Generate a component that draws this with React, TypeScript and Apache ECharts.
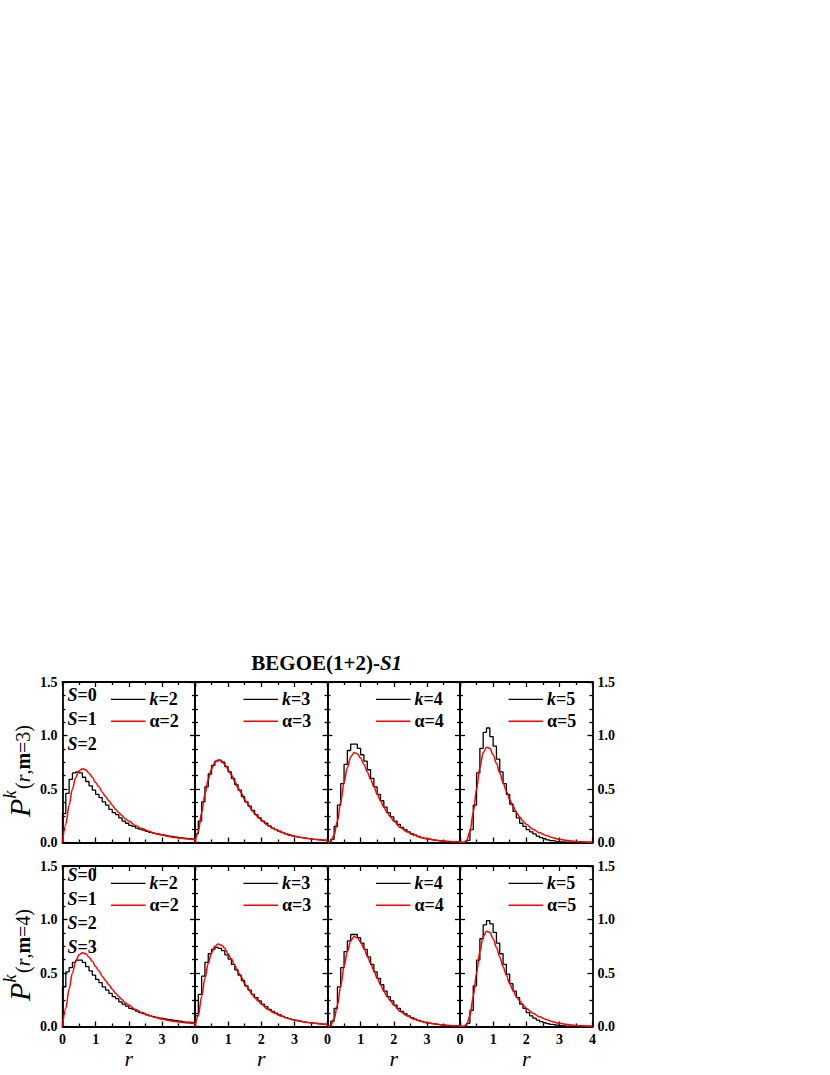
import React, { useEffect, useRef } from "react";
import * as echarts from "echarts";

// ---------- data ----------
const BIN_WIDTH = 0.1;
const X_MAX = 4;

// histogram bin heights (bins of width 0.1 from 0 to 4), m = 3 row
const histTopK2 = [0.27,0.46,0.59,0.65,0.66,0.65,0.61,0.57,0.53,0.49,0.45,0.42,0.38,0.35,0.31,0.28,0.26,0.23,0.2,0.18,0.16,0.15,0.135,0.125,0.115,0.105,0.095,0.088,0.08,0.074,0.068,0.062,0.057,0.052,0.048,0.044,0.04,0.037,0.034,0.031];
const histTopK3 = [0.08,0.2,0.38,0.52,0.64,0.72,0.76,0.77,0.75,0.71,0.66,0.6,0.54,0.49,0.43,0.38,0.34,0.3,0.26,0.23,0.2,0.18,0.155,0.135,0.12,0.105,0.092,0.08,0.07,0.062,0.055,0.048,0.043,0.038,0.034,0.03,0.027,0.024,0.021,0.019];
const histTopK4 = [0,0.03,0.15,0.35,0.55,0.73,0.86,0.92,0.92,0.88,0.82,0.76,0.68,0.6,0.52,0.45,0.39,0.33,0.28,0.24,0.2,0.17,0.14,0.12,0.1,0.082,0.068,0.056,0.046,0.038,0.031,0.025,0.02,0.016,0.013,0.01,0.008,0.006,0.005,0.004];
const histTopK5 = [0,0,0.02,0.12,0.35,0.65,0.88,1.03,1.07,0.99,0.9,0.78,0.66,0.55,0.45,0.36,0.29,0.23,0.18,0.15,0.12,0.1,0.08,0.06,0.045,0.035,0.025,0.018,0.012,0.008,0.006,0.004,0.003,0.002,0.001,0.001,0,0,0,0];

// m = 4 row
const histBotK2 = [0.37,0.51,0.55,0.6,0.62,0.62,0.6,0.56,0.52,0.48,0.44,0.41,0.37,0.34,0.31,0.28,0.26,0.23,0.21,0.19,0.17,0.16,0.145,0.13,0.12,0.11,0.1,0.092,0.085,0.078,0.072,0.066,0.061,0.056,0.052,0.048,0.044,0.041,0.038,0.035];
const histBotK3 = [0.1,0.3,0.47,0.6,0.68,0.72,0.74,0.73,0.71,0.67,0.63,0.58,0.53,0.48,0.43,0.38,0.34,0.3,0.27,0.24,0.21,0.185,0.16,0.14,0.125,0.11,0.095,0.083,0.073,0.064,0.056,0.05,0.044,0.039,0.035,0.031,0.028,0.025,0.022,0.02];
const histBotK4 = [0,0.05,0.17,0.37,0.55,0.7,0.8,0.86,0.86,0.83,0.78,0.72,0.65,0.58,0.51,0.45,0.39,0.33,0.28,0.24,0.2,0.17,0.14,0.12,0.1,0.083,0.069,0.057,0.047,0.039,0.032,0.026,0.021,0.017,0.014,0.011,0.009,0.007,0.006,0.005];
const histBotK5 = [0,0,0.03,0.15,0.38,0.62,0.82,0.95,0.99,0.96,0.88,0.78,0.68,0.58,0.49,0.4,0.33,0.27,0.21,0.17,0.13,0.1,0.078,0.06,0.046,0.035,0.026,0.019,0.014,0.01,0.007,0.005,0.004,0.003,0.002,0.001,0.001,0,0,0];

// fitted curves (red), sampled at these r values
const fitR = [0,0.1,0.2,0.3,0.4,0.5,0.6,0.7,0.8,0.9,1.0,1.1,1.2,1.3,1.4,1.5,1.6,1.7,1.8,1.9,2.0,2.2,2.4,2.6,2.8,3.0,3.2,3.4,3.6,3.8,4.0];
const fitAlpha2 = [0,0.17,0.35,0.5,0.61,0.67,0.69,0.68,0.65,0.61,0.56,0.52,0.47,0.43,0.39,0.35,0.31,0.28,0.25,0.22,0.2,0.16,0.13,0.105,0.085,0.07,0.057,0.047,0.039,0.033,0.028];
const fitAlpha3 = [0,0.1,0.28,0.45,0.59,0.69,0.75,0.77,0.76,0.73,0.68,0.63,0.57,0.51,0.46,0.4,0.36,0.31,0.27,0.24,0.21,0.16,0.125,0.097,0.077,0.06,0.047,0.038,0.03,0.024,0.02];
const fitAlpha4 = [0,0.01,0.07,0.2,0.38,0.56,0.7,0.8,0.84,0.83,0.79,0.73,0.66,0.59,0.52,0.45,0.39,0.33,0.28,0.24,0.2,0.14,0.1,0.07,0.05,0.035,0.025,0.017,0.012,0.008,0.006];
const fitAlpha5 = [0,0,0.02,0.1,0.28,0.5,0.7,0.84,0.89,0.88,0.82,0.74,0.65,0.56,0.48,0.4,0.34,0.28,0.24,0.2,0.17,0.125,0.09,0.065,0.045,0.03,0.02,0.013,0.008,0.005,0.003];

const kValues = [2, 3, 4, 5];
const mValues = [3, 4];
const sLabelsTop = ["0", "1", "2"];
const sLabelsBot = ["0", "1", "2", "3"];
const histRows = [
  [histTopK2, histTopK3, histTopK4, histTopK5],
  [histBotK2, histBotK3, histBotK4, histBotK5],
];
const fitCurves = [fitAlpha2, fitAlpha3, fitAlpha4, fitAlpha5];
const yTicks = [0, 0.5, 1.0, 1.5];
const xTicks = [0, 1, 2, 3, 4];

// ---------- layout ----------
const FONT = '"Liberation Serif", "Times New Roman", serif';
const GRID_LEFTS = [62.5, 195, 327.5, 460];
const GRID_W = 132.5;
const GRID_TOPS = [682, 866];
const GRID_H = 160.5;

function buildOption() {
  const grid: any[] = [];
  const xAxis: any[] = [];
  const yAxis: any[] = [];
  const series: any[] = [];
  const graphic: any[] = [];

  const tickStyle = { color: "#000", width: 1.3 };
  const lineStyle = { color: "#000", width: 1.8 };
  const labelStyle = {
    fontFamily: FONT,
    fontWeight: "bold",
    fontSize: 14,
    color: "#000",
  };

  let gi = 0;
  for (let row = 0; row < 2; row++) {
    for (let col = 0; col < 4; col++) {
      grid.push({
        left: GRID_LEFTS[col],
        top: GRID_TOPS[row],
        width: GRID_W,
        height: GRID_H,
        containLabel: false,
      });
      const xBase = {
        type: "value",
        gridIndex: gi,
        min: 0,
        max: X_MAX,
        interval: 1,
        axisLine: { show: true, onZero: false, lineStyle },
        axisTick: { show: true, inside: true, length: 5, lineStyle: tickStyle },
        minorTick: { show: true, splitNumber: 2, length: 3, lineStyle: tickStyle },
        splitLine: { show: false },
      };
      xAxis.push({
        ...xBase,
        position: "bottom",
        axisLabel: {
          show: row === 1,
          showMaxLabel: col === 3,
          margin: 6,
          ...labelStyle,
          formatter: (v: number) => (xTicks.includes(v) ? String(v) : ""),
        },
        name: row === 1 ? "r" : "",
        nameLocation: "middle",
        nameGap: 20,
        nameTextStyle: { fontFamily: FONT, fontStyle: "italic", fontSize: 22, color: "#000" },
      });
      xAxis.push({ ...xBase, position: "top", axisLabel: { show: false } });
      const yBase = {
        type: "value",
        gridIndex: gi,
        min: 0,
        max: 1.5,
        interval: 0.5,
        axisLine: { show: true, onZero: false, lineStyle },
        axisTick: { show: true, inside: true, length: 5, lineStyle: tickStyle },
        minorTick: { show: true, splitNumber: 4, length: 3, lineStyle: tickStyle },
        splitLine: { show: false },
      };
      yAxis.push({
        ...yBase,
        position: "left",
        axisLabel: {
          show: col === 0,
          margin: 5,
          ...labelStyle,
          formatter: (v: number) => (yTicks.includes(v) ? v.toFixed(1) : ""),
        },
      });
      yAxis.push({
        ...yBase,
        position: "right",
        axisLabel: {
          show: col === 3,
          margin: 5,
          ...labelStyle,
          formatter: (v: number) => (yTicks.includes(v) ? v.toFixed(1) : ""),
        },
      });

      const hist = histRows[row][col];
      const histData: number[][] = [[0, 0]];
      hist.forEach((h, j) => histData.push([j * BIN_WIDTH, h]));
      histData.push([X_MAX, hist[hist.length - 1]]);
      series.push({
        type: "line",
        name: `k=${kValues[col]} m=${mValues[row]}`,
        xAxisIndex: gi * 2,
        yAxisIndex: gi * 2,
        data: histData,
        step: "end",
        showSymbol: false,
        symbol: "none",
        lineStyle: { color: "#000", width: 1.3 },
        z: 3,
      });
      const fit = fitCurves[col];
      series.push({
        type: "line",
        name: `alpha=${kValues[col]} m=${mValues[row]}`,
        xAxisIndex: gi * 2,
        yAxisIndex: gi * 2,
        data: fitR.map((r, j) => [r, fit[j]]),
        smooth: 0.35,
        smoothMonotone: "x",
        showSymbol: false,
        symbol: "none",
        lineStyle: { color: "#ff0000", width: 1.5 },
        z: 4,
      });

      // legend-like marks inside each panel
      const left = GRID_LEFTS[col];
      const top = GRID_TOPS[row];
      const legY1 = top + 17.3;
      const legY2 = top + 39.2;
      graphic.push({
        type: "line",
        shape: { x1: left + 48.5, y1: legY1, x2: left + 83, y2: legY1 },
        style: { stroke: "#000", lineWidth: 1.3 },
      });
      graphic.push({
        type: "line",
        shape: { x1: left + 48.5, y1: legY2, x2: left + 83, y2: legY2 },
        style: { stroke: "#ff0000", lineWidth: 1.5 },
      });
      const richLeg = {
        bi: { fontFamily: FONT, fontSize: 18, fontWeight: "bold", fontStyle: "italic", fill: "#000", color: "#000" },
        b: { fontFamily: FONT, fontSize: 18, fontWeight: "bold", fill: "#000", color: "#000" },
      };
      graphic.push({
        type: "text",
        x: left + 87,
        y: legY1,
        style: {
          text: `{bi|k}{b|=${kValues[col]}}`,
          rich: richLeg,
          align: "left",
          verticalAlign: "middle",
          textAlign: "left",
          textVerticalAlign: "middle",
        },
      });
      graphic.push({
        type: "text",
        x: left + 87,
        y: legY2,
        style: {
          text: `{b|α=${kValues[col]}}`,
          rich: richLeg,
          align: "left",
          verticalAlign: "middle",
          textAlign: "left",
          textVerticalAlign: "middle",
        },
      });
      gi++;
    }
  }

  // S labels
  const richS = {
    bi: { fontFamily: FONT, fontSize: 18, fontWeight: "bold", fontStyle: "italic", fill: "#000", color: "#000" },
    b: { fontFamily: FONT, fontSize: 18, fontWeight: "bold", fill: "#000", color: "#000" },
  };
  const sRows = [sLabelsTop, sLabelsBot];
  const sStartY = [695, 874.5];
  sRows.forEach((labels, row) => {
    labels.forEach((s, j) => {
      graphic.push({
        type: "text",
        x: 67.5,
        y: sStartY[row] + j * 24.3,
        style: {
          text: `{bi|S}{b|=${s}}`,
          rich: richS,
          align: "left",
          verticalAlign: "middle",
          textAlign: "left",
          textVerticalAlign: "middle",
        },
      });
    });
  });

  // Y axis names  P^k(r,m=3)
  const richY = {
    n: { fontFamily: FONT, fontSize: 20, fill: "#000", color: "#000" },
    i: { fontFamily: FONT, fontSize: 20, fontStyle: "italic", fill: "#000", color: "#000" },
    b: { fontFamily: FONT, fontSize: 20, fontWeight: "bold", fill: "#000", color: "#000" },
  };
  mValues.forEach((m, row) => {
    graphic.push({
      type: "group",
      x: 29.5,
      y: 817 + row * 184,
      rotation: Math.PI / 2,
      children: [
        {
          type: "text",
          x: 0,
          y: -10,
          style: {
            text: "P",
            fontFamily: FONT,
            fontSize: 30,
            fontStyle: "italic",
            fill: "#000",
            align: "left",
            verticalAlign: "middle",
            textAlign: "left",
            textVerticalAlign: "middle",
          },
        },
        {
          type: "text",
          x: 18.5,
          y: -20,
          style: {
            text: "k",
            fontFamily: FONT,
            fontSize: 18,
            fontStyle: "italic",
            fill: "#000",
            align: "left",
            verticalAlign: "middle",
            textAlign: "left",
            textVerticalAlign: "middle",
          },
        },
        {
          type: "text",
          x: 28,
          y: -6.5,
          style: {
            text: `{n|(}{i|r}{n|,}{b|m}{n|=${m})}`,
            rich: richY,
            align: "left",
            verticalAlign: "middle",
            textAlign: "left",
            textVerticalAlign: "middle",
          },
        },
      ],
    });
  });

  // title
  graphic.push({
    type: "text",
    x: 326.7,
    y: 663,
    style: {
      text: "{b|BEGOE(1+2)-}{bi|S1}",
      rich: {
        b: { fontFamily: FONT, fontSize: 21, fontWeight: "bold", fill: "#000", color: "#000" },
        bi: { fontFamily: FONT, fontSize: 21, fontWeight: "bold", fontStyle: "italic", fill: "#000", color: "#000" },
      },
      align: "center",
      verticalAlign: "middle",
      textAlign: "center",
      textVerticalAlign: "middle",
    },
  });

  return {
    animation: false,
    backgroundColor: "#fff",
    grid,
    xAxis,
    yAxis,
    series,
    graphic,
  };
}

export default function App() {
  const ref = useRef<HTMLDivElement>(null);
  useEffect(() => {
    if (!ref.current) return;
    const chart = echarts.init(ref.current, null, { renderer: "svg" });
    chart.setOption(buildOption() as any);
    return () => chart.dispose();
  }, []);
  return (
    <div
      ref={ref}
      style={{ position: "fixed", left: 0, top: 0, width: 830, height: 1075, background: "#fff" }}
    />
  );
}
